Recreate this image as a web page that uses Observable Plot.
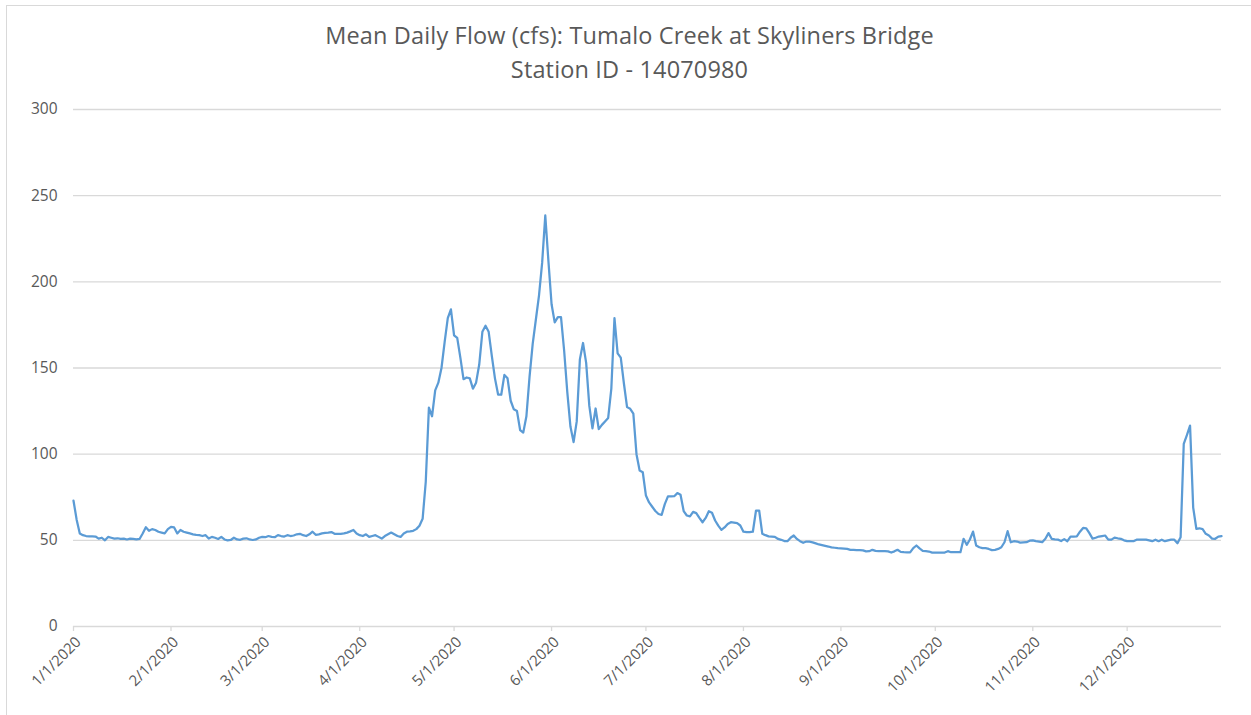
<!DOCTYPE html>
<html>
<head>
<meta charset="utf-8">
<script src="https://cdn.jsdelivr.net/npm/d3@7"></script>
<script src="https://cdn.jsdelivr.net/npm/@observablehq/plot@0.6"></script>
<style>
  html, body { margin: 0; padding: 0; background: #fff; }
  #wrap { position: relative; width: 1251px; height: 715px; overflow: hidden; font-family: Lato, "Open Sans", sans-serif; }
  #frame { position: absolute; left: 6px; top: 5px; width: 1300px; height: 800px; border-left: 1.5px solid #d9d9d9; border-top: 1.5px solid #d9d9d9; }
  #title { position: absolute; left: 0; top: 0; width: 1259px; text-align: center; color: #595959; font-family: "Open Sans", Lato, sans-serif; font-size: 23.5px; letter-spacing: 0.15px; line-height: 34px; padding-top: 18px; }
  #chart { position: absolute; left: 0; top: 0; }
</style>
</head>
<body>
<div id="wrap">
  <div id="frame"></div>
  <div id="title"><div id="t1"></div><div id="t2"></div></div>
  <div id="chart"></div>
</div>
<script>
const titleLine1 = "Mean Daily Flow (cfs): Tumalo Creek at Skyliners Bridge";
const titleLine2 = "Station ID - 14070980";

// Mean daily flow (cfs), 2020, one value per day, by month
const jan = [73, 62, 54, 53, 52.5, 52.3, 52.3, 52.2, 51, 51.5, 50, 52, 51.5, 51, 51.2, 50.8, 51, 50.5, 51, 50.8, 50.6, 50.8, 54, 57.6, 55.5, 56.5, 56, 55, 54.5, 54, 56.5];
const feb = [57.8, 57.5, 54, 56, 55, 54.5, 54, 53.5, 53.2, 53, 52.5, 53, 51, 52, 51.5, 50.8, 52, 50.5, 50, 50.2, 51.5, 50.5, 50.3, 51, 51.2, 50.5, 50.2, 50.5, 51.5];
const mar = [52, 51.8, 52.5, 52, 51.8, 53, 52.5, 52.2, 53, 52.5, 52.8, 53.5, 53.8, 53, 52.5, 53.5, 55, 53.2, 53.5, 54, 54.3, 54.5, 54.8, 53.8, 53.7, 53.8, 54, 54.5, 55.2, 56, 54];
const apr = [53, 52.5, 53.5, 52, 52.5, 53, 52, 51, 52.5, 53.5, 54.5, 53.5, 52.5, 52, 54, 55, 55.2, 55.5, 56.5, 58.5, 62.5, 84, 127, 122, 137, 141.5, 150, 165, 179, 184];
const may = [169, 167.5, 156, 143.5, 144.5, 144, 138, 141.5, 152, 171, 174.5, 171, 157, 144, 134.6, 134.5, 146, 144, 131, 126, 125, 114, 112.5, 122, 145, 164, 178, 192, 211, 238.5, 212];
const jun = [187, 176.5, 179.5, 179.5, 160, 136, 116, 107, 119, 155, 164.5, 153, 128, 115, 126.5, 114.5, 117, 119, 121, 138, 179, 158.5, 156, 141, 127.3, 126.3, 123.5, 100, 90.5, 89.5];
const jul = [76, 72, 69.5, 67, 65.3, 64.8, 71, 75.5, 75.5, 75.6, 77.4, 76.5, 67, 64.4, 63.9, 66.5, 65.8, 63, 60.5, 63, 66.9, 66, 61.5, 58.5, 56.1, 57.5, 59.5, 60.5, 60.3, 60, 58.6];
const aug = [55, 54.7, 54.7, 55, 67.3, 67.3, 53.8, 53, 52.3, 52.2, 52, 50.8, 50.3, 49.6, 49.5, 51.5, 52.8, 50.8, 49.5, 48.6, 49.3, 49.2, 48.8, 48.2, 47.6, 47.2, 46.8, 46.4, 45.9, 45.7, 45.5];
const sep = [45.4, 45.2, 45, 44.5, 44.4, 44.3, 44.3, 44.2, 43.6, 43.7, 44.5, 43.9, 43.7, 43.7, 43.7, 43.6, 42.9, 43.6, 44.5, 43.3, 43.1, 43, 43, 45.5, 47, 45.3, 43.9, 43.7, 43.5, 42.9];
const oct = [42.9, 42.9, 42.9, 42.9, 43.7, 43.1, 43.1, 43.1, 43.1, 50.9, 47.4, 50.5, 55.1, 47, 46, 45.5, 45.5, 45, 44.3, 44.5, 45, 46, 48.9, 55.3, 48.9, 49.5, 49.3, 48.7, 48.8, 48.9, 49.8];
const nov = [50, 49.5, 49.2, 48.9, 50.9, 54.2, 50.9, 50.6, 50.4, 49.6, 50.7, 49.5, 52.2, 52.2, 52.3, 55, 57.2, 57, 54.2, 51, 51.5, 52.2, 52.5, 52.8, 50.4, 50.4, 51.6, 51.2, 50.9, 50];
const dec = [49.5, 49.5, 49.5, 50.4, 50.4, 50.4, 50.4, 50, 49.5, 50.4, 49.5, 50.4, 49.5, 50, 50.4, 50.4, 48.3, 51.8, 106, 111, 116.6, 69, 56.7, 57, 56.5, 53.8, 52.8, 51, 50.9, 52.2, 52.5];

const months = [jan, feb, mar, apr, may, jun, jul, aug, sep, oct, nov, dec];
const xTickLabels = ["1/1/2020", "2/1/2020", "3/1/2020", "4/1/2020", "5/1/2020", "6/1/2020", "7/1/2020", "8/1/2020", "9/1/2020", "10/1/2020", "11/1/2020", "12/1/2020"];
const yTicks = [0, 50, 100, 150, 200, 250, 300];

const data = [];
months.forEach((vals, m) => {
  vals.forEach((v, i) => data.push({date: new Date(Date.UTC(2020, m, i + 1)), flow: v}));
});
const monthStarts = xTickLabels.map((_, m) => new Date(Date.UTC(2020, m, 1)));

document.getElementById("t1").textContent = titleLine1;
document.getElementById("t2").textContent = titleLine2;

const chart = Plot.plot({
  width: 1251,
  height: 715,
  marginLeft: 73,
  marginRight: 30,
  marginTop: 109,
  marginBottom: 89,
  style: {fontFamily: "'Open Sans', Lato, sans-serif", color: "#595959", background: "transparent"},
  x: {type: "utc", domain: [new Date(Date.UTC(2020, 0, 1)), new Date(Date.UTC(2020, 11, 31))]},
  y: {domain: [0, 300]},
  marks: [
    Plot.gridY(yTicks.filter(d => d > 0), {stroke: "#d9d9d9", strokeOpacity: 1, strokeWidth: 1.3}),
    Plot.ruleY([0], {stroke: "#d9d9d9", strokeWidth: 1.3}),
    Plot.axisY(yTicks, {tickSize: 0, tickPadding: 16, fontSize: 15.5, fill: "#595959", label: null}),
    // tick marks only
    Plot.axisX(monthStarts, {tickSize: 5, stroke: "#d9d9d9", strokeWidth: 1.3, tickFormat: () => "", label: null}),
    // rotated labels only
    Plot.axisX(monthStarts, {
      tickSize: 0, fill: "#595959", fontSize: 15,
      tickRotate: -45, tickPadding: 13, dx: 5, label: null,
      tickFormat: (d) => xTickLabels[d.getUTCMonth()]
    }),
    Plot.lineY(data, {x: "date", y: "flow", stroke: "#5B9BD5", strokeWidth: 2.25})
  ]
});
document.getElementById("chart").appendChild(chart);
</script>
</body>
</html>
